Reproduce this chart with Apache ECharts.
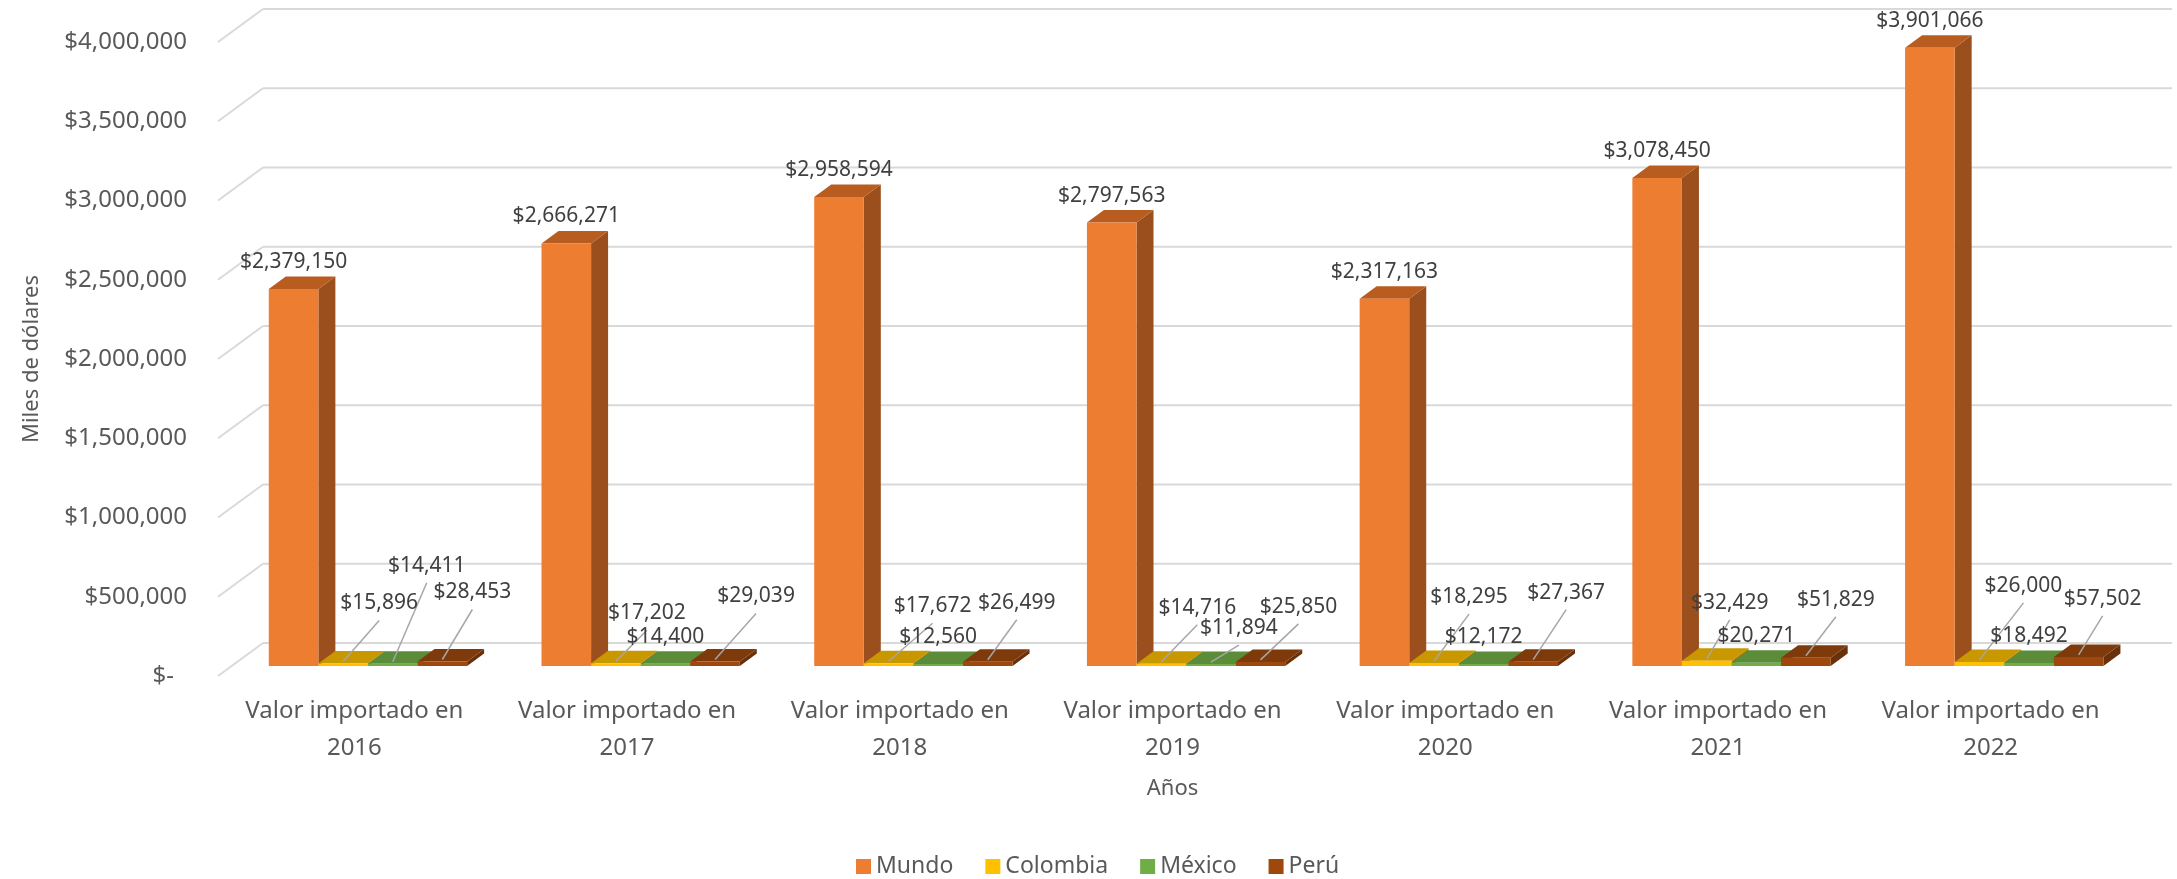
<!DOCTYPE html>
<html>
<head>
<meta charset="utf-8">
<script src="https://cdn.jsdelivr.net/npm/echarts@6/dist/echarts.min.js"></script>
<style>
  html, body { margin: 0; padding: 0; background: #fff; }
  #chart { width: 2177px; height: 879px; }
</style>
</head>
<body>
<div id="chart"></div>
<script>
const years = ['2016', '2017', '2018', '2019', '2020', '2021', '2022'];
const mundo = [2379150, 2666271, 2958594, 2797563, 2317163, 3078450, 3901066];
const colombia = [15896, 17202, 17672, 14716, 18295, 32429, 26000];
const mexico = [14411, 14400, 12560, 11894, 12172, 20271, 18492];
const peru = [28453, 29039, 26499, 25850, 27367, 51829, 57502];
const yTicks = [0, 500000, 1000000, 1500000, 2000000, 2500000, 3000000, 3500000, 4000000];

// labels that were dragged by hand in the original, px from the bar top (null = default spot)
const colombiaLabelShift = [[36, -60], [31, -50], [44, -57], [36, -56], [35, -66], [23, -58], [44, -76]];
const mexicoLabelShift = [[34, -98], null, null, [28, -36], null, null, null];
const peruLabelShift = [[30, -69], [41, -65], [29, -59], [38, -55], [33, -69], [30, -58], [24, -58]];

const FONT = 'Noto Sans';
// depth of the floor, and where the bars sit inside it
const DX = 45, DY = 33;
const FX = 13.6, FY = 10;
const BDX = 17, BDY = 12.5;

const money = v => '$' + v.toLocaleString('en-US');

function barRender(idx, faces, shifts) {
  return function (params, api) {
    const i = api.value(0), v = api.value(1);
    const base = api.coord([i, 0]);
    const top = api.coord([i, v]);
    const band = api.size([1, 0])[0];
    const w = band / 5.5;
    const x0 = base[0] - band / 2 + 0.75 * w + idx * w + FX;
    const x1 = x0 + w;
    const y0 = base[1] - FY;
    const y1 = top[1] - FY;
    const cx = (x0 + x1) / 2;
    const children = [
      { type: 'polygon', shape: { points: [[x1, y0], [x1 + BDX, y0 - BDY], [x1 + BDX, y1 - BDY], [x1, y1]] },
        style: { fill: faces[2] } },
      { type: 'polygon', shape: { points: [[x0, y1], [x1, y1], [x1 + BDX, y1 - BDY], [x0 + BDX, y1 - BDY]] },
        style: { fill: faces[1] } },
      { type: 'rect', shape: { x: x0, y: y1, width: w, height: y0 - y1 }, style: { fill: faces[0] } }
    ];
    const sh = shifts ? shifts[i] : null;
    let lx = cx, ly = y1 - 27;
    if (sh) {
      lx = cx + sh[0];
      ly = y1 + sh[1];
      children.push({ type: 'line', shape: { x1: lx, y1: ly + 17, x2: cx, y2: y1 - 2 },
        style: { stroke: '#A6A6A6', lineWidth: 1.5 } });
    }
    children.push({ type: 'text', z2: 10,
      style: { text: money(v), x: lx, y: ly, align: 'center', verticalAlign: 'middle',
        fontSize: 21, fontFamily: FONT, fill: '#404040' } });
    return { type: 'group', children: children };
  };
}

function gridRender(params, api) {
  const cs = params.coordSys;
  const y = api.coord([0, api.value(1)])[1];
  const xl = cs.x, xr = cs.x + cs.width;
  const st = { stroke: '#D9D9D9', lineWidth: 2 };
  return { type: 'group', children: [
    { type: 'line', shape: { x1: xl, y1: y, x2: xl + DX, y2: y - DY }, style: st },
    { type: 'line', shape: { x1: xl + DX, y1: y - DY, x2: xr + DX, y2: y - DY }, style: st }
  ] };
}

const toData = arr => arr.map((v, i) => [i, v]);

const chart = echarts.init(document.getElementById('chart'));
chart.setOption({
  animation: false,
  textStyle: { fontFamily: FONT },
  grid: { left: 218, right: 50, top: 42, bottom: 203, containLabel: false, outerBoundsMode: 'none' },
  legend: {
    data: ['Mundo', 'Colombia', 'México', 'Perú'],
    icon: 'rect', itemWidth: 15, itemHeight: 15, itemGap: 32,
    top: 850, left: 851,
    textStyle: { fontSize: 23, color: '#595959', fontFamily: FONT }
  },
  xAxis: {
    type: 'category',
    data: years.map(y => 'Valor importado en\n' + y),
    name: 'Años', nameLocation: 'middle', nameGap: 102,
    nameTextStyle: { fontSize: 22, color: '#595959', fontFamily: FONT },
    axisLine: { show: false }, axisTick: { show: false }, splitLine: { show: false },
    axisLabel: { interval: 0, fontSize: 24, lineHeight: 37, margin: 17, color: '#595959', fontFamily: FONT }
  },
  yAxis: {
    type: 'value', min: 0, max: 4000000, interval: 500000,
    name: 'Miles de dólares', nameLocation: 'middle', nameRotate: 90, nameGap: 175,
    nameTextStyle: { fontSize: 22, color: '#595959', fontFamily: FONT },
    axisLine: { show: false }, axisTick: { show: false }, splitLine: { show: false },
    axisLabel: {
      fontSize: 24, margin: 31, color: '#595959', fontFamily: FONT,
      formatter: v => v === 0 ? '{z|$-}' : money(v),
      rich: { z: { fontSize: 24, color: '#595959', fontFamily: FONT, padding: [0, 13, 0, 0] } }
    }
  },
  series: [
    { type: 'custom', name: 'grid', silent: true, renderItem: gridRender,
      data: yTicks.map(t => [0, t]), encode: { x: 0, y: 1 } },
    { type: 'custom', name: 'Mundo', itemStyle: { color: '#ED7D31' },
      renderItem: barRender(0, ['#ED7D31', '#B95C1F', '#9A4F1D'], null),
      data: toData(mundo), encode: { x: 0, y: 1 } },
    { type: 'custom', name: 'Colombia', itemStyle: { color: '#FFC000' },
      renderItem: barRender(1, ['#FFC000', '#C99700', '#A67D00'], colombiaLabelShift),
      data: toData(colombia), encode: { x: 0, y: 1 } },
    { type: 'custom', name: 'México', itemStyle: { color: '#70AD47' },
      renderItem: barRender(2, ['#70AD47', '#5A8C39', '#4A7530'], mexicoLabelShift),
      data: toData(mexico), encode: { x: 0, y: 1 } },
    { type: 'custom', name: 'Perú', itemStyle: { color: '#9E480E' },
      renderItem: barRender(3, ['#9E480E', '#7E3A0B', '#6A300A'], peruLabelShift),
      data: toData(peru), encode: { x: 0, y: 1 } }
  ]
});
</script>
</body>
</html>
